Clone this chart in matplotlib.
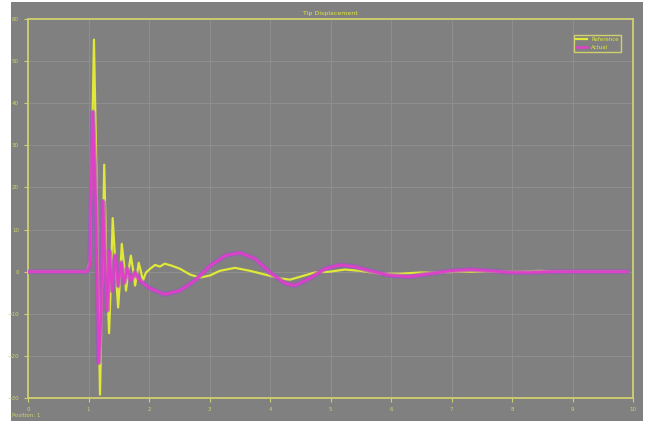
import matplotlib.pyplot as plt
import numpy as np
from matplotlib.patches import Rectangle

# values (x in tick units, y in tick units x10)
x_ref = [0, 0.975, 1.025, 1.09, 1.14, 1.19, 1.22, 1.26, 1.29, 1.34, 1.37, 1.40, 1.45, 1.49,
         1.52, 1.55, 1.59, 1.62, 1.65, 1.70, 1.74, 1.77, 1.80, 1.83, 1.87, 1.90, 1.95, 2.02,
         2.10, 2.18, 2.26, 2.38, 2.51, 2.68, 2.84, 3.01, 3.17, 3.42, 3.67, 3.92, 4.17, 4.33,
         4.50, 4.74, 4.99, 5.24, 5.49, 5.82, 6.15, 6.48, 6.81, 7.14, 7.47, 7.80, 8.13, 8.46,
         8.79, 9.45, 9.9]
y_ref = [0, 0, 2.6, 55.1, 16.7, -29.2, -6.8, 25.4, 4.9, -14.6, -2.1, 12.7, 0.2, -8.5,
         -2.1, 6.6, 1.4, -4.5, -0.9, 3.8, 0.2, -3.3, -0.9, 2.1, -0.2, -2.1, -0.2, 0.7,
         1.6, 1.2, 1.9, 1.4, 0.7, -0.7, -1.4, -0.9, 0.2, 0.9, 0.2, -0.7, -1.6, -1.9,
         -1.2, -0.2, 0, 0.5, 0.2, -0.5, -0.5, -0.2, -0.2, 0, 0, 0, 0, 0.2,
         0, 0, 0]

x_act = [0, 0.975, 1.02, 1.07, 1.12, 1.17, 1.21, 1.24, 1.27, 1.31, 1.34, 1.39, 1.44, 1.49,
         1.54, 1.59, 1.64, 1.70, 1.77, 1.85, 2.02, 2.26, 2.51, 2.76, 3.01, 3.26, 3.50, 3.75,
         4.00, 4.25, 4.41, 4.66, 4.91, 5.16, 5.40, 5.65, 5.98, 6.31, 6.64, 6.98, 7.31, 7.64,
         7.97, 8.30, 8.63, 9.9]
y_act = [0, 0, 1.4, 37.9, 16.7, -21.6, -9.2, 16.7, 2.6, -9.2, 4.9, -4.5, 3.8, -3.3,
         2.1, -2.6, 0.7, -2.1, -0.2, -2.1, -4.0, -5.4, -4.5, -2.1, 1.4, 3.8, 4.5, 3.1,
         -0.2, -2.8, -3.3, -1.6, 0.7, 1.6, 1.2, 0.2, -0.9, -1.2, -0.5, 0.2, 0.5, 0.2,
         -0.2, -0.2, 0, 0]

xticks = list(range(0, 11))
yticks = list(range(-30, 61, 10))
labels = ["Reference", "Actual"]

bg = "#808080"
fg = "#d0d070"
yel = "#e0e838"
mag = "#e040c8"

fig = plt.figure(figsize=(6.53, 4.21), dpi=100, facecolor="white")
fig.patches.append(Rectangle((11/653, 0), 632/653, 419/421, transform=fig.transFigure,
                             facecolor=bg, edgecolor="none", zorder=-1))
ax = fig.add_axes([28/653, 23/421, 605/653, 379/421])
ax.set_facecolor(bg)

l1, = ax.plot(x_ref, y_ref, color=yel, lw=1.6, zorder=2, label=labels[0])
ax.plot(x_act, y_act, color="#a050d0", lw=3.5, alpha=0.6, zorder=3)
l2, = ax.plot(x_act, y_act, color=mag, lw=1.8, zorder=4, label=labels[1])

ax.set_xlim(0, 10)
ax.set_ylim(-30, 60)
ax.set_xticks(xticks)
ax.set_yticks(yticks)
ax.grid(True, color="#8e8e8e", lw=0.8)
ax.tick_params(colors=fg, labelsize=4, length=3, width=0.8)
for s in ax.spines.values():
    s.set_color(fg)
    s.set_linewidth(1.3)

ax.set_title("Tip Displacement", color=yel, fontsize=4.5, pad=3)
fig.text(12/653, 4/421, "Position: 1", color=fg, fontsize=4)

leg = ax.legend(handles=[l1, l2], loc="upper right", fontsize=4, facecolor=bg,
                edgecolor=fg, framealpha=1, fancybox=False, handlelength=2,
                bbox_to_anchor=(0.985, 0.965), borderpad=0.4)
for t in leg.get_texts():
    t.set_color(yel)

fig.savefig("out.png", dpi=100, facecolor=fig.get_facecolor())
